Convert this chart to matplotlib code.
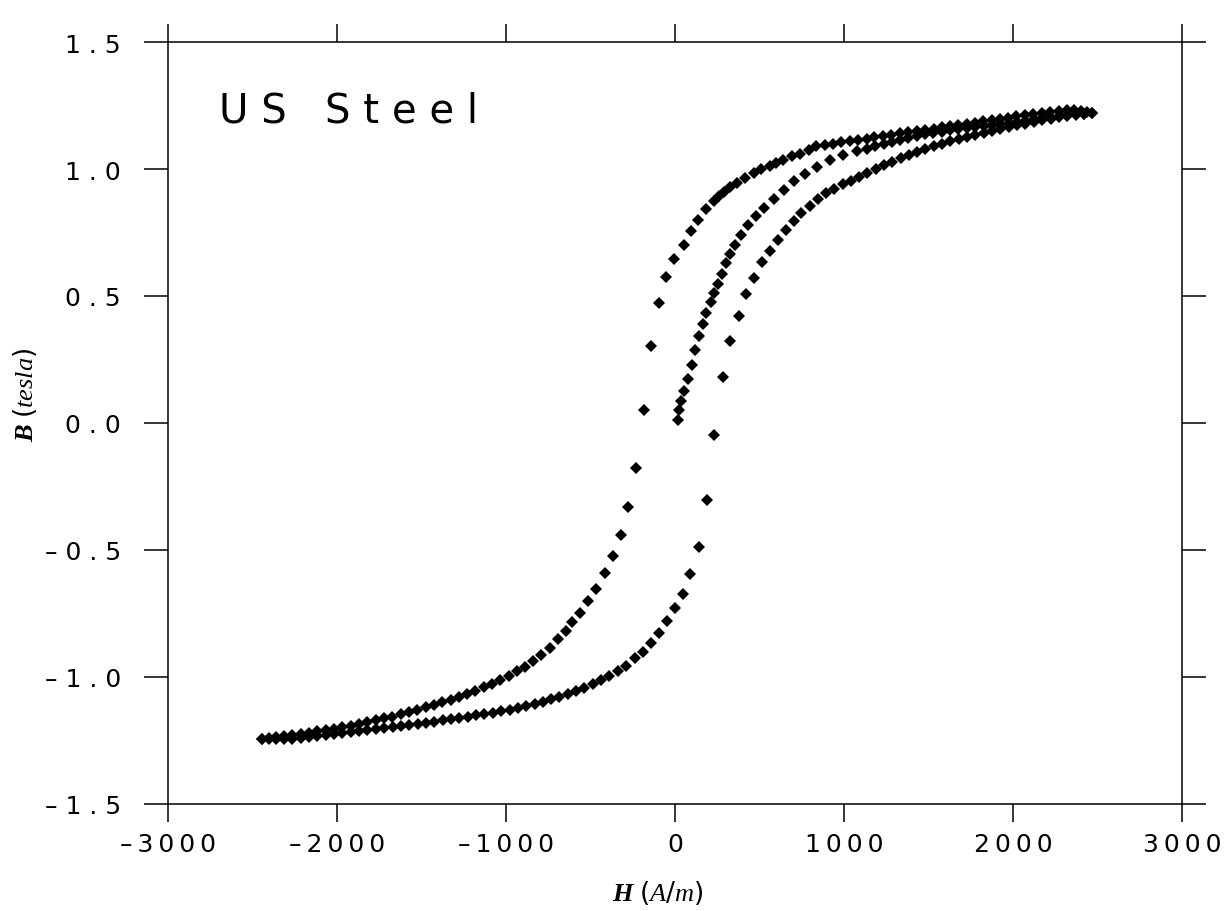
import matplotlib.pyplot as plt

# descending branch, from the +H tip down to the -H tip
desc_H = [2468, 2440, 2400, 2360, 2320, 2270, 2220, 2170, 2120, 2070, 2020, 1970,
          1925, 1875, 1825, 1775, 1725, 1675, 1625, 1580, 1530, 1480, 1430, 1380,
          1330, 1280, 1230, 1180, 1135, 1085, 1035, 985, 935, 885, 835, 790, 740,
          690, 640, 600, 560, 510, 465, 415, 365, 325, 290, 260, 231,
          182, 138, 96, 51, -3, -51, -97, -143, -185, -231, -277, -322, -368,
          -417, -467, -516, -562, -608, -645, -693, -741, -790,
          -840, -887, -935, -985, -1035, -1083, -1130, -1181, -1230, -1279, -1328,
          -1377, -1425, -1475, -1525, -1574, -1623, -1673, -1722, -1771, -1820,
          -1870, -1920, -1969, -2018, -2067, -2116, -2166, -2215, -2265, -2314,
          -2363, -2405, -2443]
desc_B = [1.222, 1.226, 1.229, 1.231, 1.231, 1.229, 1.226, 1.222, 1.217, 1.212, 1.207, 1.202,
          1.197, 1.193, 1.188, 1.183, 1.178, 1.173, 1.168, 1.164, 1.159, 1.155, 1.150, 1.145,
          1.140, 1.135, 1.130, 1.125, 1.120, 1.115, 1.110, 1.105, 1.100, 1.095, 1.090, 1.075, 1.060,
          1.050, 1.035, 1.022, 1.013, 1.000, 0.985, 0.966, 0.944, 0.928, 0.910, 0.893, 0.875,
          0.841, 0.801, 0.754, 0.701, 0.647, 0.574, 0.472, 0.303, 0.052, -0.178, -0.330, -0.439, -0.523,
          -0.592, -0.653, -0.701, -0.747, -0.784, -0.817, -0.851, -0.885, -0.912,
          -0.936, -0.959, -0.978, -0.997, -1.013, -1.028, -1.041, -1.054, -1.066, -1.078, -1.089,
          -1.100, -1.110, -1.120, -1.129, -1.138, -1.147, -1.156, -1.163, -1.170, -1.178,
          -1.185, -1.191, -1.197, -1.203, -1.208, -1.214, -1.219, -1.224, -1.228, -1.233,
          -1.238, -1.241, -1.243]

# ascending branch, from the -H tip back up to the +H tip
asc_H = [-2443, -2405, -2363, -2314, -2265, -2215, -2166, -2116, -2067, -2018, -1968, -1918,
         -1869, -1820, -1770, -1720, -1671, -1621, -1572, -1522, -1473, -1424, -1374, -1325,
         -1276, -1226, -1177, -1128, -1078, -1028, -979, -930, -880, -831, -782, -733, -684,
         -635, -585, -536, -487, -440, -389, -335, -288, -237, -187, -140, -94, -49, -1, 46,
         89, 140, 188, 233, 282, 328, 377, 420, 465, 514, 564, 609, 658, 706, 748, 797, 845,
         894, 943, 992, 1041, 1090, 1139, 1188, 1237, 1286, 1335, 1384, 1433, 1482, 1532,
         1581, 1630, 1679, 1728, 1777, 1827, 1876, 1925, 1975, 2024, 2073, 2123, 2172, 2222,
         2271, 2320, 2370, 2419, 2468]
asc_B = [-1.243, -1.245, -1.246, -1.245, -1.243, -1.240, -1.237, -1.233, -1.229, -1.226, -1.222, -1.217,
         -1.212, -1.208, -1.205, -1.201, -1.198, -1.193, -1.189, -1.185, -1.181, -1.176, -1.171, -1.166,
         -1.161, -1.156, -1.151, -1.146, -1.140, -1.134, -1.128, -1.122, -1.115, -1.106, -1.097, -1.088, -1.078,
         -1.067, -1.055, -1.042, -1.028, -1.012, -0.996, -0.975, -0.955, -0.925, -0.900, -0.866, -0.826, -0.779, -0.729, -0.672,
         -0.596, -0.489, -0.302, -0.046, 0.181, 0.323, 0.422, 0.509, 0.569, 0.632, 0.678, 0.722, 0.760, 0.796, 0.827, 0.854, 0.882,
         0.905, 0.923, 0.940, 0.952, 0.970, 0.986, 1.001, 1.015, 1.029, 1.043, 1.055, 1.067, 1.079, 1.090,
         1.100, 1.109, 1.118, 1.126, 1.135, 1.143, 1.151, 1.158, 1.165, 1.172, 1.178, 1.184, 1.191, 1.197,
         1.203, 1.208, 1.213, 1.217, 1.222]

# initial magnetisation curve from the demagnetised state
init_H = [17, 25, 38, 54, 76, 102, 121, 142, 167, 185, 211, 233, 253, 278, 300, 328, 357,
          391, 433, 481, 529, 587, 646, 704, 772, 840, 918, 997, 1076, 1135, 1185, 1234,
          1283, 1332, 1381, 1431, 1480, 1529, 1578, 1628, 1677, 1727, 1776, 1826, 1875,
          1925, 1975, 2024, 2073, 2123, 2172, 2221, 2270, 2320, 2370, 2419]
init_B = [0.010, 0.050, 0.086, 0.126, 0.172, 0.229, 0.286, 0.342, 0.389, 0.432, 0.475, 0.512,
          0.547, 0.587, 0.628, 0.667, 0.701, 0.742, 0.781, 0.815, 0.848, 0.883, 0.917, 0.951,
          0.979, 1.007, 1.035, 1.055, 1.071, 1.080, 1.090, 1.097, 1.106, 1.115, 1.123, 1.130,
          1.136, 1.142, 1.147, 1.152, 1.157, 1.161, 1.165, 1.169, 1.173, 1.177, 1.181, 1.186,
          1.190, 1.195, 1.199, 1.203, 1.207, 1.211, 1.215, 1.218]

xticks = [-3000, -2000, -1000, 0, 1000, 2000, 3000]
yticks = [-1.5, -1.0, -0.5, 0.0, 0.5, 1.0, 1.5]
xtick_labels = ['\u20133000', '\u20132000', '\u20131000', '0', '1000', '2000', '3000']
ytick_labels = ['\u20131.5', '\u20131.0', '\u20130.5', '0.0', '0.5', '1.0', '1.5']

THIN = '\u2009'

plt.rcParams['mathtext.fontset'] = 'custom'
plt.rcParams['mathtext.it'] = 'Liberation Serif:italic'
plt.rcParams['mathtext.bf'] = 'Liberation Serif:italic:bold'

fig = plt.figure(figsize=(12.26, 9.12), dpi=100)
ax = fig.add_axes([168 / 1226, 1 - 805 / 912, 1014 / 1226, 762 / 912])

for H, B in [(desc_H, desc_B), (asc_H, asc_B), (init_H, init_B)]:
    ax.plot(H, B, linestyle='none', marker='D', markersize=6,
            markeredgewidth=0, color='black')

ax.set_xlim(-3000, 3000)
ax.set_ylim(-1.5, 1.5)
ax.set_xticks(xticks)
ax.set_yticks(yticks)
ax.set_xticklabels([THIN.join(s) for s in xtick_labels], fontsize=18)
ax.set_yticklabels([' '.join(s) for s in ytick_labels], fontsize=18)

for side in ax.spines.values():
    side.set_linewidth(1.1)
ax.tick_params(direction='out', width=1.1, top=True, right=True,
               labeltop=False, labelright=False)
ax.tick_params(axis='x', length=13, pad=7)
ax.tick_params(axis='y', length=17, pad=17)

ax.text(0.050, 0.896, 'U S   S t e e l',
        transform=ax.transAxes, fontsize=29, ha='left', va='baseline')

ax.set_xlabel(r'$\mathbf{H}\ \mathit{(A/m)}$', fontsize=19, va='center')
ax.xaxis.set_label_coords(0.483, -0.115)
ax.set_ylabel(r'$\mathbf{B}\ \mathit{(tesla)}$', fontsize=19, va='center')
ax.yaxis.set_label_coords(-0.141, 0.538)

fig.savefig('out.png', dpi=100)
